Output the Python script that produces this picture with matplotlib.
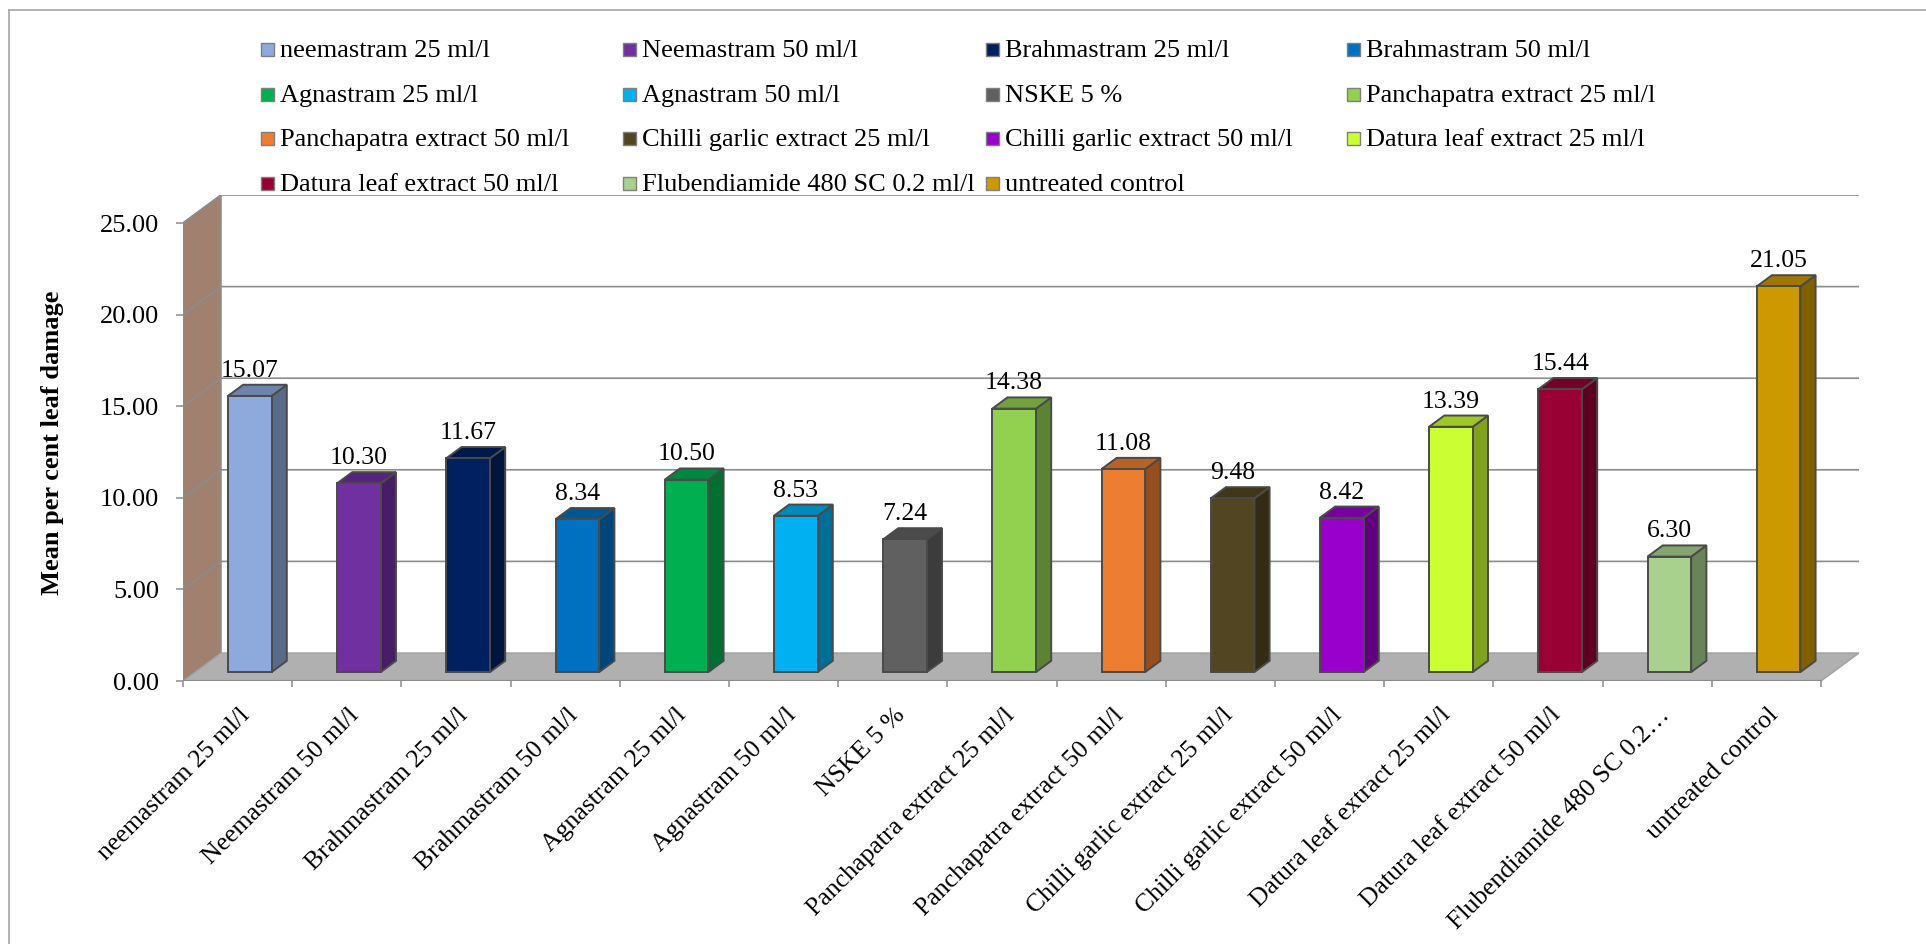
import matplotlib
matplotlib.use("Agg")
import matplotlib.pyplot as plt
from matplotlib.patches import Polygon, Rectangle
from matplotlib.colors import to_rgb
from matplotlib.transforms import offset_copy
import numpy as np

treatments = [
    "neemastram 25 ml/l", "Neemastram 50 ml/l", "Brahmastram 25 ml/l", "Brahmastram 50 ml/l",
    "Agnastram 25 ml/l", "Agnastram 50 ml/l", "NSKE 5 %", "Panchapatra extract 25 ml/l",
    "Panchapatra extract 50 ml/l", "Chilli garlic extract 25 ml/l", "Chilli garlic extract 50 ml/l",
    "Datura leaf extract 25 ml/l", "Datura leaf extract 50 ml/l", "Flubendiamide 480 SC 0.2 ml/l",
    "untreated control",
]
tick_labels = treatments[:13] + ["Flubendiamide 480 SC 0.2\u2026", "untreated control"]
leaf_damage = [15.07, 10.30, 11.67, 8.34, 10.50, 8.53, 7.24, 14.38, 11.08, 9.48, 8.42, 13.39, 15.44, 6.30, 21.05]
bar_colors = ["#8EA9DB", "#7030A0", "#002060", "#0070C0", "#00B050", "#00B0F0", "#606060", "#92D050",
              "#ED7D31", "#524521", "#9900CC", "#CCFF33", "#990033", "#A9D18E", "#CC9900"]
y_ticks = [0, 5, 10, 15, 20, 25]

plt.rcParams['font.family'] = ['Liberation Serif', 'DejaVu Serif']

W, H, DPI = 1926, 944, 100
fig = plt.figure(figsize=(W / DPI, H / DPI), dpi=DPI)

# overlay in pixel units for the frame and legend
bg = fig.add_axes([0, 0, 1, 1])
bg.set_xlim(0, W)
bg.set_ylim(H, 0)
bg.axis('off')
bg.plot([9, W], [10, 10], color='#A6A6A6', lw=1.2)
bg.plot([9, 9], [10, H], color='#A6A6A6', lw=1.2)

# legend: 4 columns, filled row by row
col_x = [261, 623, 986, 1347]
row_y = [49, 94, 138, 183]
for k, (name, c) in enumerate(zip(treatments, bar_colors)):
    r, cidx = divmod(k, 4)
    x, y = col_x[cidx], row_y[r]
    bg.add_patch(Rectangle((x, y - 6.5), 13, 13, fc=c, ec='#7F7F7F', lw=1.0))
    bg.text(x + 19, y + 8, name, fontsize=19, ha='left', va='baseline')

# front plane of the 3-D box, in pixels
x0_px, y0_px = 183, 681
cat_px, unit_px = 109.2, 18.32
n = len(leaf_damage)
ymax = 25
DX = 38 / cat_px
DY = 28 / unit_px

ax = fig.add_axes([x0_px / W, (H - y0_px) / H, (n + DX) * cat_px / W, (ymax + DY) * unit_px / H])
ax.set_xlim(0, n + DX)
ax.set_ylim(0, ymax + DY)
ax.patch.set_visible(False)
for s in ax.spines.values():
    s.set_visible(False)

grid_c = '#8C8C8C'
ax.add_patch(Polygon([(0, 0), (DX, DY), (DX, ymax + DY), (0, ymax)], closed=True,
                     fc='#A0806E', ec=grid_c, lw=1.1, zorder=1))
ax.add_patch(Polygon([(0, 0), (n, 0), (n + DX, DY), (DX, DY)], closed=True,
                     fc='#B0B0B0', ec='#A0A0A0', lw=1.0, zorder=1))
for t in y_ticks[1:]:
    ax.plot([0, DX, n + DX], [t, t + DY, t + DY], color=grid_c, lw=1.2, zorder=1.5)
ax.plot([0, n], [0, 0], color=grid_c, lw=1.6, zorder=2)
ax.plot([0, 0], [0, ymax], color=grid_c, lw=1.2, zorder=2)


def shade(c, f):
    return tuple(np.array(to_rgb(c)) * f)


F1, F2, BW = 0.32, 0.40, 0.40  # bar front offset, bar depth (fractions of box depth), bar width
edge = '#4A4A4A'
for i, (v, c) in enumerate(zip(leaf_damage, bar_colors)):
    xl = i + 0.5 - BW / 2 + F1 * DX
    xr = xl + BW
    yb = F1 * DY
    ddx, ddy = F2 * DX, F2 * DY
    ax.add_patch(Polygon([(xr, yb), (xr + ddx, yb + ddy), (xr + ddx, yb + ddy + v), (xr, yb + v)],
                         closed=True, fc=shade(c, 0.63), ec=edge, lw=1.4, zorder=3))
    ax.add_patch(Polygon([(xl, yb + v), (xr, yb + v), (xr + ddx, yb + v + ddy), (xl + ddx, yb + v + ddy)],
                         closed=True, fc=shade(c, 0.78), ec=edge, lw=1.4, zorder=3))
    ax.add_patch(Rectangle((xl, yb), BW, v, fc=c, ec=edge, lw=1.4, zorder=4))
    ax.text(xl + BW / 2, yb + v + ddy, f"{v:.2f}", fontsize=18.5, ha='center', va='baseline',
            transform=offset_copy(ax.transData, fig, x=0, y=8, units='dots'), zorder=5)

ax.set_yticks(y_ticks)
ax.set_yticklabels([f"{t:.2f}" for t in y_ticks])
ax.tick_params(axis='y', length=5, width=1.1, color=grid_c, labelsize=19, pad=12)
ax.set_xticks(np.arange(n + 1))
ax.set_xticklabels([])
ax.tick_params(axis='x', length=4.5, width=1.1, color=grid_c)

lbl_tr = offset_copy(ax.transData, fig, x=1, y=-23, units='dots')
for i, lab in enumerate(tick_labels):
    ax.text(i + 0.5, 0, lab, fontsize=18.5, rotation=45, ha='right', va='top',
            rotation_mode='anchor', transform=lbl_tr)

fig.text(53 / W, 1 - 443 / H, "Mean per cent leaf damage", rotation=90, fontsize=19,
         fontweight='bold', ha='center', va='center')

fig.savefig("out.png", dpi=DPI)
